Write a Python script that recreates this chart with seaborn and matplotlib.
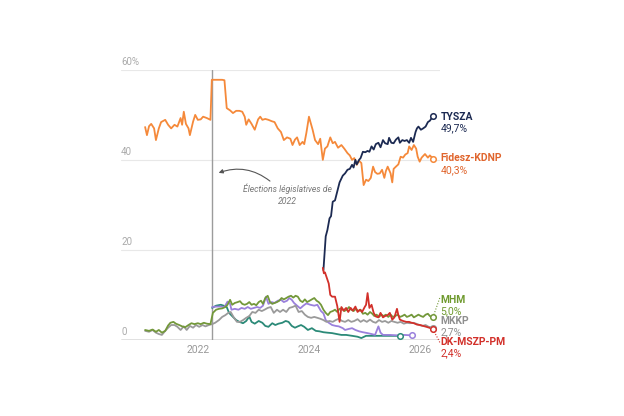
import pandas as pd
import matplotlib.pyplot as plt
import seaborn as sns

# poll averages (%)
fidesz_dates = ["2021-01-20", "2021-02-01", "2021-02-15", "2021-03-01", "2021-03-20", "2021-04-01",
                "2021-04-20", "2021-05-05", "2021-06-01", "2021-06-20", "2021-07-10", "2021-08-01",
                "2021-08-20", "2021-09-10", "2021-09-20", "2021-10-01", "2021-10-15", "2021-11-01",
                "2021-11-10", "2021-12-01", "2021-12-15", "2022-01-01", "2022-01-20", "2022-02-05",
                "2022-03-01", "2022-03-25", "2022-04-03", "2022-05-15", "2022-06-10", "2022-06-25",
                "2022-07-10", "2022-08-01", "2022-08-20", "2022-09-10", "2022-10-01", "2022-10-20",
                "2022-11-05", "2022-11-15", "2022-12-01", "2022-12-20", "2023-01-10", "2023-02-01",
                "2023-02-15", "2023-03-01", "2023-03-20", "2023-04-10", "2023-05-01", "2023-05-20",
                "2023-06-10", "2023-07-01", "2023-07-20", "2023-08-10", "2023-09-01", "2023-09-15",
                "2023-10-01", "2023-10-15", "2023-11-01", "2023-11-20", "2023-12-01", "2023-12-15",
                "2024-01-01", "2024-01-10", "2024-01-25", "2024-02-10", "2024-03-01", "2024-03-15",
                "2024-04-01", "2024-04-15", "2024-05-01", "2024-05-20", "2024-06-05", "2024-06-20",
                "2024-07-10", "2024-08-01", "2024-08-20", "2024-09-10", "2024-09-25", "2024-10-10",
                "2024-10-25", "2024-11-10", "2024-11-25", "2024-12-10", "2024-12-25", "2025-01-10",
                "2025-01-25", "2025-02-10", "2025-02-25", "2025-03-10", "2025-03-25", "2025-04-10",
                "2025-04-25", "2025-05-10", "2025-05-20", "2025-06-01", "2025-06-20", "2025-07-01",
                "2025-07-10", "2025-07-25", "2025-08-10", "2025-08-25", "2025-09-10", "2025-09-25",
                "2025-10-10", "2025-10-20", "2025-11-05", "2025-11-20", "2025-12-05", "2025-12-15",
                "2025-12-28", "2026-01-10", "2026-02-01", "2026-02-20", "2026-03-05", "2026-03-25"]
fidesz = [47.3, 45.5, 47.5, 48.0, 47.0, 44.4, 47.0, 48.4, 48.9, 47.8, 47.0, 47.8,
          47.4, 49.3, 47.8, 50.7, 48.0, 47.0, 45.5, 48.5, 50.0, 48.9, 49.0, 49.6,
          49.3, 48.9, 57.8, 57.8, 57.8, 57.7, 51.5, 51.0, 50.4, 50.9, 50.9, 50.7,
          49.6, 47.8, 49.0, 48.0, 46.7, 49.0, 49.6, 48.9, 49.1, 48.9, 48.6, 48.4,
          47.0, 46.2, 44.4, 45.0, 44.7, 43.3, 44.5, 45.0, 43.3, 44.0, 43.5, 46.0,
          49.6, 48.5, 46.7, 44.4, 43.5, 44.7, 40.0, 42.5, 43.0, 45.0, 43.7, 44.0,
          42.7, 43.3, 42.5, 41.5, 41.0, 40.0, 40.4, 38.9, 39.8, 39.3, 34.4, 35.6,
          35.3, 36.0, 38.5, 37.3, 36.9, 37.0, 37.8, 36.0, 37.5, 38.5, 37.0, 35.0,
          38.0, 38.5, 39.0, 40.7, 40.5, 41.2, 41.5, 43.0, 42.2, 43.3, 42.5, 40.7,
          39.6, 40.5, 41.3, 40.5, 41.0, 40.3]

tisza_dates = ["2024-04-05", "2024-04-10", "2024-04-20", "2024-05-01", "2024-05-15", "2024-05-25",
               "2024-06-05", "2024-06-20", "2024-07-05", "2024-07-20", "2024-08-10", "2024-08-25",
               "2024-09-10", "2024-09-25", "2024-10-10", "2024-10-20", "2024-11-01", "2024-11-10",
               "2024-11-25", "2024-12-05", "2024-12-20", "2025-01-05", "2025-01-20", "2025-02-01",
               "2025-02-15", "2025-03-01", "2025-03-15", "2025-04-01", "2025-04-15", "2025-05-01",
               "2025-05-15", "2025-06-01", "2025-06-10", "2025-06-25", "2025-07-10", "2025-07-25",
               "2025-08-10", "2025-08-20", "2025-09-05", "2025-09-20", "2025-10-05", "2025-10-20",
               "2025-11-01", "2025-11-15", "2025-12-01", "2025-12-10", "2025-12-20", "2026-01-05",
               "2026-01-20", "2026-02-05", "2026-02-20", "2026-03-05", "2026-03-25"]
tisza = [15.5, 18.0, 23.0, 24.4, 27.0, 27.5, 30.7, 31.0, 33.0, 35.0, 36.5, 37.0,
         37.8, 38.0, 38.9, 38.3, 40.0, 39.0, 40.0, 40.4, 41.8, 41.7, 42.0, 41.8,
         43.0, 42.3, 43.5, 43.8, 42.8, 44.4, 43.7, 43.5, 44.9, 43.8, 43.7, 44.5,
         45.0, 43.8, 44.4, 44.2, 44.4, 43.8, 44.9, 44.0, 46.2, 47.0, 47.4, 46.7,
         47.0, 47.4, 48.4, 48.7, 49.7]

dk_dates = ["2024-04-01", "2024-04-08", "2024-04-15", "2024-04-25", "2024-05-10", "2024-05-20",
            "2024-06-01", "2024-06-20", "2024-07-05", "2024-07-20", "2024-08-01", "2024-08-15",
            "2024-09-01", "2024-09-15", "2024-10-01", "2024-10-15", "2024-11-01", "2024-11-15",
            "2024-12-01", "2024-12-15", "2025-01-01", "2025-01-10", "2025-01-20", "2025-02-01",
            "2025-02-15", "2025-03-01", "2025-03-15", "2025-04-01", "2025-04-15", "2025-05-01",
            "2025-05-15", "2025-06-01", "2025-06-15", "2025-07-01", "2025-07-15", "2025-08-01",
            "2025-08-10", "2025-08-20", "2025-09-10", "2025-10-01", "2025-10-20", "2025-11-05",
            "2025-11-20", "2025-12-10", "2026-01-01", "2026-01-20", "2026-02-10", "2026-03-01",
            "2026-03-25"]
dk = [16.0, 14.8, 15.0, 14.0, 12.5, 10.0, 9.6, 9.6, 7.5, 4.0, 7.3, 6.5,
      7.1, 6.2, 7.1, 6.5, 7.4, 6.2, 6.7, 6.2, 7.3, 7.8, 10.4, 7.1,
      7.8, 6.0, 5.2, 5.0, 6.0, 5.0, 5.3, 5.5, 6.0, 4.5, 5.0, 6.9,
      5.5, 4.5, 4.2, 4.0, 4.0, 3.8, 3.7, 3.4, 3.3, 3.1, 2.9, 2.7,
      2.4]

mhm_dates = ["2021-01-20", "2021-02-15", "2021-03-10", "2021-04-01", "2021-04-20", "2021-05-10",
             "2021-06-01", "2021-06-20", "2021-07-05", "2021-07-25", "2021-08-10", "2021-09-01",
             "2021-09-20", "2021-10-10", "2021-11-01", "2021-11-20", "2021-12-10", "2022-01-01",
             "2022-01-20", "2022-02-10", "2022-03-01", "2022-03-25", "2022-04-10", "2022-05-01",
             "2022-05-20", "2022-06-10", "2022-07-01", "2022-07-15", "2022-08-01", "2022-08-15",
             "2022-09-01", "2022-09-20", "2022-10-05", "2022-10-20", "2022-11-05", "2022-11-20",
             "2022-12-05", "2022-12-20", "2023-01-05", "2023-01-20", "2023-02-05", "2023-02-20",
             "2023-03-05", "2023-03-20", "2023-04-05", "2023-04-20", "2023-05-05", "2023-05-20",
             "2023-06-05", "2023-06-20", "2023-07-05", "2023-07-20", "2023-08-05", "2023-08-20",
             "2023-09-05", "2023-09-20", "2023-10-05", "2023-10-20", "2023-11-05", "2023-11-20",
             "2023-12-05", "2023-12-20", "2024-01-05", "2024-01-20", "2024-02-05", "2024-02-20",
             "2024-03-05", "2024-03-20", "2024-04-05", "2024-04-20", "2024-05-05", "2024-05-20",
             "2024-06-05", "2024-06-20", "2024-07-05", "2024-07-20", "2024-08-05", "2024-08-20",
             "2024-09-05", "2024-09-20", "2024-10-05", "2024-10-20", "2024-11-05", "2024-11-20",
             "2024-12-05", "2024-12-20", "2025-01-05", "2025-01-20", "2025-02-05", "2025-02-20",
             "2025-03-05", "2025-03-20", "2025-04-05", "2025-04-20", "2025-05-05", "2025-05-20",
             "2025-06-05", "2025-06-20", "2025-07-05", "2025-07-20", "2025-08-05", "2025-08-20",
             "2025-09-05", "2025-09-20", "2025-10-05", "2025-10-20", "2025-11-05", "2025-11-20",
             "2025-12-05", "2025-12-20", "2026-01-05", "2026-01-20", "2026-02-05", "2026-02-20",
             "2026-03-05", "2026-03-25"]
mhm = [2.2, 2.0, 2.3, 1.8, 2.2, 1.6, 2.0, 3.2, 3.8, 4.0, 3.6, 3.3,
       3.0, 2.8, 3.3, 3.7, 3.5, 3.7, 3.5, 3.8, 3.6, 3.5, 6.0, 6.7,
       6.9, 7.0, 7.3, 7.8, 8.9, 7.8, 8.2, 8.4, 8.6, 8.0, 7.8, 8.0,
       8.4, 7.8, 8.0, 7.7, 8.4, 8.7, 8.0, 9.3, 9.8, 8.4, 8.0, 8.2,
       8.4, 8.7, 9.3, 9.0, 9.3, 9.6, 9.8, 9.4, 9.8, 9.6, 8.7, 8.4,
       9.0, 8.4, 8.7, 9.0, 9.3, 8.7, 8.4, 7.8, 6.7, 6.0, 5.5, 6.2,
       6.4, 6.7, 6.2, 6.9, 7.0, 6.4, 6.7, 7.3, 6.7, 6.4, 6.9, 6.4,
       6.7, 5.8, 6.0, 5.6, 6.2, 5.8, 5.3, 5.6, 5.1, 5.6, 5.3, 5.6,
       5.1, 5.6, 5.1, 5.3, 5.6, 5.1, 5.3, 5.6, 5.1, 5.3, 5.6, 5.0,
       5.3, 5.6, 5.3, 5.1, 5.6, 5.8, 5.3, 5.0]

mkkp_dates = ["2021-01-20", "2021-02-15", "2021-03-10", "2021-04-01", "2021-04-20", "2021-05-10",
              "2021-06-01", "2021-06-20", "2021-07-10", "2021-08-01", "2021-08-20", "2021-09-10",
              "2021-10-01", "2021-10-20", "2021-11-10", "2021-12-01", "2021-12-20", "2022-01-10",
              "2022-02-01", "2022-02-20", "2022-03-15", "2022-04-05", "2022-04-25", "2022-05-20",
              "2022-06-10", "2022-07-01", "2022-07-20", "2022-08-05", "2022-08-25", "2022-09-15",
              "2022-10-05", "2022-10-25", "2022-11-15", "2022-12-05", "2022-12-25", "2023-01-15",
              "2023-02-05", "2023-02-25", "2023-03-15", "2023-04-05", "2023-04-25", "2023-05-15",
              "2023-06-05", "2023-06-25", "2023-07-15", "2023-08-05", "2023-08-25", "2023-09-15",
              "2023-10-05", "2023-10-25", "2023-11-15", "2023-12-05", "2023-12-25", "2024-01-15",
              "2024-02-05", "2024-02-25", "2024-03-15", "2024-04-05", "2024-04-25", "2024-05-15",
              "2024-06-05", "2024-06-25", "2024-07-15", "2024-08-05", "2024-08-25", "2024-09-15",
              "2024-10-05", "2024-10-25", "2024-11-15", "2024-12-05", "2024-12-25", "2025-01-15",
              "2025-02-05", "2025-02-25", "2025-03-15", "2025-04-05", "2025-04-25", "2025-05-15",
              "2025-06-05", "2025-06-25", "2025-07-15", "2025-08-05", "2025-08-25", "2025-09-15",
              "2025-10-05", "2025-10-25", "2025-11-15", "2025-12-05", "2025-12-25", "2026-01-15",
              "2026-02-05", "2026-02-25", "2026-03-25"]
mkkp = [2.0, 1.8, 2.2, 1.6, 1.3, 1.1, 2.0, 2.7, 3.3, 3.3, 2.9, 2.2,
        3.0, 2.2, 3.1, 2.7, 3.3, 2.9, 3.3, 3.0, 3.3, 3.5, 3.8, 4.4,
        5.1, 5.5, 6.0, 6.2, 5.0, 4.0, 4.0, 4.4, 4.9, 5.3, 6.2, 6.0,
        6.7, 6.4, 6.7, 7.1, 7.3, 6.0, 6.7, 6.2, 6.7, 6.2, 7.1, 7.3,
        7.6, 6.2, 6.4, 5.6, 5.1, 4.9, 5.1, 4.9, 4.7, 4.4, 4.0, 4.2,
        4.0, 4.4, 4.7, 4.2, 4.0, 4.4, 4.0, 4.2, 4.6, 4.0, 4.4, 4.0,
        4.5, 4.0, 3.8, 4.4, 4.0, 4.2, 3.8, 4.2, 4.0, 3.8, 4.0, 3.6,
        3.8, 3.7, 3.8, 3.6, 3.3, 3.1, 3.3, 2.9, 2.7]

purple_dates = ["2022-04-05", "2022-05-01", "2022-06-01", "2022-06-25", "2022-07-15", "2022-08-01",
                "2022-08-10", "2022-09-01", "2022-09-25", "2022-10-15", "2022-11-05", "2022-11-25",
                "2022-12-15", "2023-01-05", "2023-01-25", "2023-02-15", "2023-03-05", "2023-03-25",
                "2023-04-10", "2023-05-01", "2023-05-20", "2023-06-10", "2023-07-01", "2023-07-20",
                "2023-08-10", "2023-08-25", "2023-09-10", "2023-09-25", "2023-10-15", "2023-11-05",
                "2023-11-25", "2023-12-15", "2024-01-10", "2024-02-05", "2024-02-25", "2024-03-20",
                "2024-04-05", "2024-04-20", "2024-05-10", "2024-06-01", "2024-06-25", "2024-07-15",
                "2024-08-10", "2024-08-25", "2024-09-15", "2024-10-10", "2024-11-01", "2024-11-25",
                "2024-12-20", "2025-01-20", "2025-02-15", "2025-03-10", "2025-04-01", "2025-04-15",
                "2025-05-01", "2025-06-15", "2025-08-01", "2025-09-15", "2025-11-10"]
purple = [7.3, 7.4, 7.4, 7.3, 8.5, 8.0, 6.7, 6.9, 6.7, 7.1, 6.9, 7.3,
          6.9, 7.1, 7.3, 7.1, 7.6, 9.6, 8.0, 8.4, 8.2, 8.7, 8.9, 8.4,
          8.7, 9.3, 8.9, 8.2, 7.6, 7.0, 7.6, 8.1, 7.8, 7.6, 7.8, 6.4,
          5.9, 4.4, 3.8, 3.3, 3.1, 3.0, 2.6, 2.2, 2.4, 2.6, 2.2, 1.9,
          1.7, 1.5, 1.3, 1.1, 3.0, 1.6, 1.1, 1.1, 1.0, 1.1, 1.0]

teal_dates = ["2022-04-05", "2022-05-01", "2022-06-01", "2022-06-20", "2022-07-10", "2022-07-25",
              "2022-08-20", "2022-09-10", "2022-10-01", "2022-10-25", "2022-11-15", "2022-12-05",
              "2022-12-20", "2023-01-10", "2023-02-05", "2023-03-01", "2023-03-20", "2023-04-10",
              "2023-05-05", "2023-05-25", "2023-06-15", "2023-07-10", "2023-08-01", "2023-08-20",
              "2023-09-10", "2023-10-01", "2023-10-20", "2023-11-10", "2023-12-01", "2023-12-25",
              "2024-01-20", "2024-02-15", "2024-03-10", "2024-04-05", "2024-05-01", "2024-06-01",
              "2024-07-01", "2024-08-01", "2024-09-01", "2024-10-10", "2024-11-15", "2024-12-10",
              "2025-01-10", "2025-02-20", "2025-04-01", "2025-05-15", "2025-07-01", "2025-08-20"]
teal = [7.1, 7.6, 7.8, 7.6, 7.3, 6.0, 5.1, 4.4, 4.0, 3.7, 4.2, 5.2,
        4.0, 3.6, 4.2, 3.8, 3.1, 2.9, 3.7, 3.3, 3.6, 3.8, 4.2, 4.0,
        3.1, 2.7, 3.0, 3.3, 2.9, 2.2, 2.6, 2.0, 1.9, 1.7, 1.6, 1.5,
        1.3, 1.1, 1.1, 0.9, 0.7, 0.4, 0.9, 0.9, 0.9, 0.9, 0.9, 0.9]

series = [("Fidesz-KDNP", fidesz_dates, fidesz), ("TYSZA", tisza_dates, tisza),
          ("teal", teal_dates, teal), ("purple", purple_dates, purple),
          ("MKKP", mkkp_dates, mkkp), ("MHM", mhm_dates, mhm),
          ("DK-MSZP-PM", dk_dates, dk)]
colors = {"Fidesz-KDNP": "#f5893a", "TYSZA": "#1c2a52", "teal": "#2b8a78",
          "purple": "#9a80dc", "MKKP": "#9a9a9a", "MHM": "#73983a",
          "DK-MSZP-PM": "#d2302a"}

df = pd.concat([pd.DataFrame({"date": pd.to_datetime(d), "value": v, "party": name})
                for name, d, v in series], ignore_index=True)

sns.set_style("white")
plt.rcParams["font.family"] = ["Roboto", "DejaVu Sans"]

fig = plt.figure(figsize=(6.24, 4.16), dpi=100)
ax = fig.add_axes([0.194, 0.183, 0.511, 0.649])

x0, x1 = pd.Timestamp("2020-08-15"), pd.Timestamp("2026-05-10")

for v in [20, 40, 60]:
    ax.axhline(v, color="#e8e8e8", lw=0.8, zorder=0)
ax.axhline(0, color="#666666", lw=1, zorder=1)
ax.axvline(pd.Timestamp("2022-04-03"), color="#9c9c9c", lw=1, zorder=1)

sns.lineplot(data=df, x="date", y="value", hue="party", palette=colors,
             hue_order=[s[0] for s in series], estimator=None, sort=True,
             legend=False, lw=1.3, ax=ax)

# open circles at the latest value of each line
for name, d, v in series:
    ax.scatter(pd.Timestamp(d[-1]), v[-1], s=16, facecolor="white",
               edgecolor=colors[name], lw=1.1, zorder=6, clip_on=False)

ax.set_xlim(x0, x1)
ax.set_ylim(0, 60)
sns.despine(ax=ax, left=True, bottom=True)
ax.set_xlabel("")
ax.set_ylabel("")
ax.set_yticks([])
ax.set_xticks(pd.to_datetime(["2022-01-01", "2024-01-01", "2026-01-01"]))
ax.set_xticklabels(["2022", "2024", "2026"], color="#999999", fontsize=7.5)
ax.tick_params(axis="x", length=0, pad=4)

for v, lab in zip([0, 20, 40, 60], ["0", "20", "40", "60%"]):
    ax.text(x0, v + 0.6, lab, color="#aaaaaa", fontsize=7, ha="left", va="bottom")

# end labels
lx = pd.Timestamp("2026-05-15")
end_labels = [("TYSZA", "49,7%", 49.6, "#1c2a52"),
              ("Fidesz-KDNP", "40,3%", 40.4, "#e0652d"),
              ("MHM", "5,0%", 8.9, "#6f9a2e"),
              ("MKKP", "2,7%", 4.2, "#8f8f8f"),
              ("DK-MSZP-PM", "2,4%", -0.4, "#d2302a")]
for name, val, y, c in end_labels:
    ax.text(lx, y, name, color=c, fontsize=7.5, fontweight="bold",
            ha="left", va="center", clip_on=False)
    ax.text(lx, y - 2.6, val, color=c, fontsize=7.5, ha="left", va="center",
            clip_on=False)

# dotted leaders to the crowded labels
ax.plot([pd.Timestamp("2026-03-25"), pd.Timestamp("2026-05-10")], [5.0, 9.4],
        color="#73983a", lw=0.8, ls=(0, (1, 1.5)), clip_on=False)
ax.plot([pd.Timestamp("2026-03-25"), pd.Timestamp("2026-05-10")], [2.4, -0.6],
        color="#d2302a", lw=0.8, ls=(0, (1, 1.5)), clip_on=False)

# election annotation
ax.text(pd.Timestamp("2023-08-14"), 32.2, "Élections législatives de\n2022",
        fontsize=6.2, style="italic", color="#777777", ha="center", va="center",
        linespacing=1.4)
ax.annotate("", xy=(pd.Timestamp("2022-05-01"), 36.9),
            xytext=(pd.Timestamp("2023-05-04"), 34.9),
            arrowprops=dict(arrowstyle="-|>", color="#555555", lw=0.8,
                            mutation_scale=6, connectionstyle="arc3,rad=0.3"))

fig.savefig("out.png", dpi=100)
